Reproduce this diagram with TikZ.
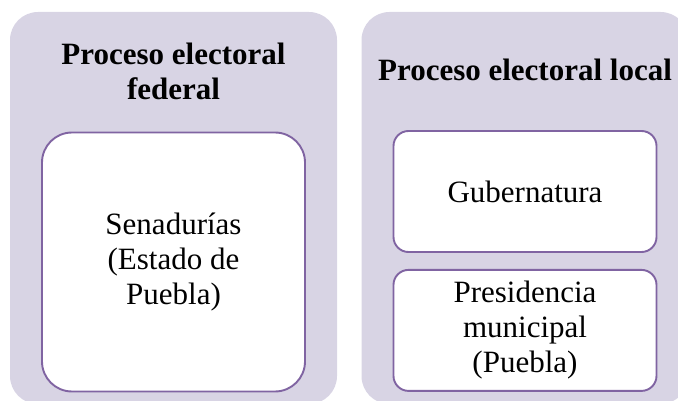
\documentclass[tikz,border=0pt]{standalone}
\usepackage{fontspec}
\setmainfont{Liberation Serif}
\usepackage{xcolor}
\usetikzlibrary{positioning}
\definecolor{panelgray}{RGB}{216,212,228}
\definecolor{boxpurple}{RGB}{128,100,162}

\begin{document}
\begin{tikzpicture}[x=1pt, y=-1pt,
    every node/.style={font=\fontsize{31}{35}\selectfont, align=center, inner sep=0pt},
    panel/.style={fill=panelgray, rounded corners=28pt, minimum width=327pt, minimum height=392pt},
    paneltitle/.style={font=\fontsize{31}{35}\selectfont\bfseries},
    itembox/.style={draw=boxpurple, line width=1.9pt, fill=white, minimum width=263pt}]
        \path[use as bounding box, clip] (0,0) rectangle (678,401);
        % Panels
        \node[panel] (federal) at (173.5,208) {};
        \node[panel] (local) at (525,208) {};
        % Titles
        \node[paneltitle] (fedtitle) at (173.5,71.5) {Proceso electoral\\federal};
        \node[paneltitle] (loctitle) at (525,70) {Proceso electoral local};
        % Items
        \node[itembox, rounded corners=30pt, minimum height=259pt] (senado) at (173.5,262) {Senadurías\\(Estado de\\Puebla)};
        \node[itembox, rounded corners=15pt, minimum height=121pt] (guber) at (525,191.5) {Gubernatura};
        \node[itembox, rounded corners=15pt, minimum height=121pt, below=16pt of guber] (presid) {Presidencia\\municipal\\(Puebla)};
    \end{tikzpicture}
\end{document}
